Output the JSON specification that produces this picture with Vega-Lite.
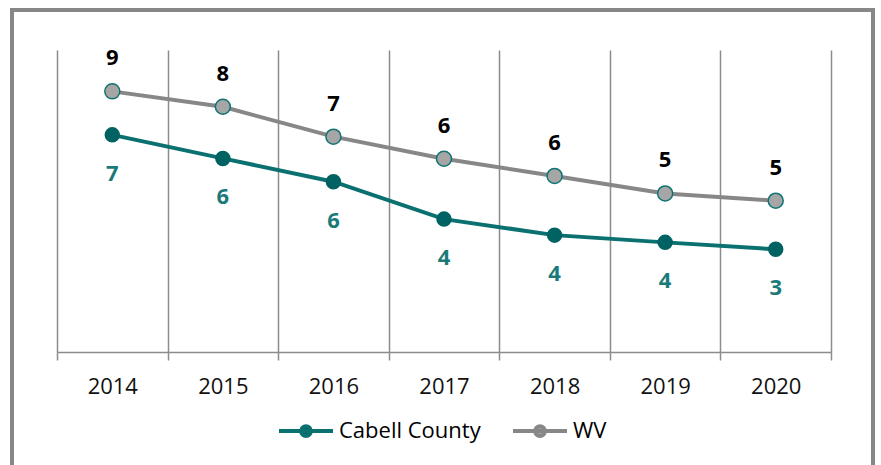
{
  "$schema": "https://vega.github.io/schema/vega-lite/v6.json",
  "width": 861,
  "height": 460,
  "autosize": "none",
  "padding": {"left": 12, "top": 10, "right": 8, "bottom": 0},
  "config": {"view": {"stroke": "#878787", "strokeWidth": 4}, "font": "Open Sans"},
  "data": {
    "values": [
      {"year": "2014", "series": "Cabell County", "value": 7.19},
      {"year": "2015", "series": "Cabell County", "value": 6.41},
      {"year": "2016", "series": "Cabell County", "value": 5.64},
      {"year": "2017", "series": "Cabell County", "value": 4.40},
      {"year": "2018", "series": "Cabell County", "value": 3.87},
      {"year": "2019", "series": "Cabell County", "value": 3.63},
      {"year": "2020", "series": "Cabell County", "value": 3.40},
      {"year": "2014", "series": "WV", "value": 8.63},
      {"year": "2015", "series": "WV", "value": 8.12},
      {"year": "2016", "series": "WV", "value": 7.13},
      {"year": "2017", "series": "WV", "value": 6.40},
      {"year": "2018", "series": "WV", "value": 5.83},
      {"year": "2019", "series": "WV", "value": 5.25},
      {"year": "2020", "series": "WV", "value": 5.01}
    ]
  },
  "layer": [
    {
      "mark": {"type": "line", "strokeWidth": 4},
      "encoding": {
        "x": {
          "field": "year", "type": "ordinal",
          "scale": {"range": [45, 819], "paddingInner": 0, "paddingOuter": 0},
          "axis": {"orient": "bottom", "offset": -118, "title": null, "labelAngle": 0, "tickBand": "extent", "tickSize": 8, "tickWidth": 1.5, "tickColor": "#8c8c8c", "domainColor": "#8c8c8c", "domainWidth": 1.5, "labelFont": "Open Sans", "labelFontSize": 22, "labelColor": "#111111", "labelPadding": 16, "grid": false, "zindex": 0}
        },
        "y": {"field": "value", "type": "quantitative", "scale": {"domain": [0, 10], "range": [342, 40]}, "axis": null},
        "color": {
          "field": "series", "type": "nominal",
          "scale": {"domain": ["Cabell County", "WV"], "range": ["#0b7070", "#878787"]},
          "legend": {
            "orient": "none", "legendX": 265, "legendY": 392, "direction": "horizontal", "title": null,
            "symbolType": "M-1,0H1M-0.18,0A0.18,0.18 0 1,0 0.18,0A0.18,0.18 0 1,0 -0.18,0Z",
            "symbolSize": 2916, "symbolStrokeWidth": 4,
            "labelFont": "Open Sans", "labelFontSize": 22, "labelColor": "#000000", "labelOffset": 4,
            "columnPadding": 24, "padding": 0,
            "encode": {"symbols": {"update": {"fill": {"signal": "datum.value === 'WV' ? '#a6a6a6' : '#006262'"}, "stroke": {"scale": "color", "field": "value"}, "opacity": {"value": 1}}}}
          }
        }
      }
    },
    {
      "mark": {"type": "point", "filled": true, "strokeWidth": 1.5, "opacity": 1},
      "encoding": {
        "x": {
          "field": "year", "type": "ordinal",
          "scale": {"range": [45, 819], "paddingInner": 0, "paddingOuter": 0},
          "axis": {"orient": "top", "offset": -342, "title": null, "labels": false, "domain": false, "tickBand": "extent", "tickSize": 302, "tickWidth": 1.5, "tickColor": "#8c8c8c", "grid": false, "zindex": 0}
        },
        "y": {"field": "value", "type": "quantitative", "axis": null},
        "fill": {"condition": {"test": "datum.series === 'WV'", "value": "#a6a6a6"}, "value": "#006262"},
        "stroke": {"condition": {"test": "datum.series === 'WV'", "value": "#117373"}, "value": "#006262"},
        "size": {"condition": {"test": "datum.series === 'WV'", "value": 225}, "value": 196}
      }
    },
    {
      "transform": [{"filter": "datum.series === 'WV'"}],
      "mark": {"type": "text", "dy": -33, "baseline": "middle", "font": "Open Sans", "fontSize": 22, "fontWeight": "bold", "color": "#000000"},
      "encoding": {
        "x": {"field": "year", "type": "ordinal", "axis": null},
        "y": {"field": "value", "type": "quantitative", "axis": null},
        "text": {"field": "value", "type": "quantitative", "format": ".0f"}
      }
    },
    {
      "transform": [{"filter": "datum.series === 'Cabell County'"}],
      "mark": {"type": "text", "dy": 39, "baseline": "middle", "font": "Open Sans", "fontSize": 22, "fontWeight": "bold", "color": "#1a7a7a"},
      "encoding": {
        "x": {"field": "year", "type": "ordinal", "axis": null},
        "y": {"field": "value", "type": "quantitative", "axis": null},
        "text": {"field": "value", "type": "quantitative", "format": ".0f"}
      }
    }
  ],
  "resolve": {"axis": {"x": "independent"}}
}
